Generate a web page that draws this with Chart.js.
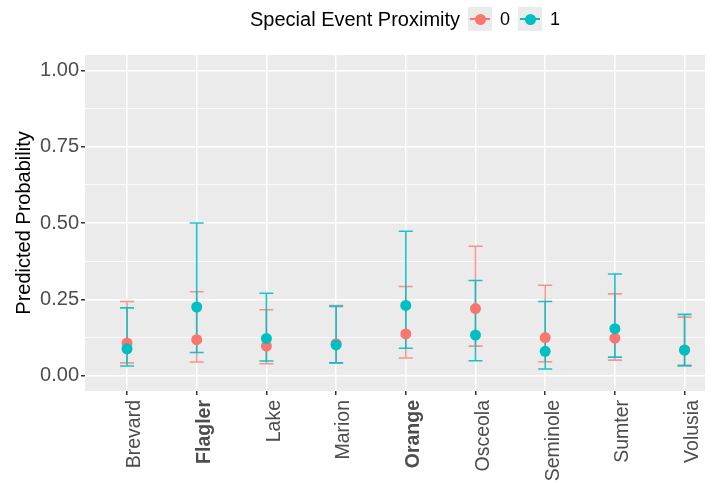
<!DOCTYPE html>
<html>
<head>
<meta charset="utf-8">
<script src="https://cdn.jsdelivr.net/npm/chart.js@4"></script>
<style>
  body { margin: 0; background: #fff; }
  #wrap { position: relative; width: 716px; height: 483px; font-family: 'Liberation Sans', Arial, sans-serif; }
  #legend { position: absolute; left: 250px; top: 7px; height: 24px; display: flex; align-items: center; font-size: 20px; color: #000; }
  .key { position: relative; width: 24px; height: 24px; background: #EBEBEB; margin-left: 8px; }
  .key .ln { position: absolute; left: 2px; right: 2px; top: 11px; height: 1.6px; }
  .key .dot { position: absolute; left: 6.5px; top: 6.5px; width: 11px; height: 11px; border-radius: 50%; }
  .lab { font-size: 18px; margin-left: 8px; }
</style>
</head>
<body>
<div id="wrap">
  <canvas id="chart" width="716" height="483"></canvas>
  <div id="legend">
    <span>Special Event Proximity</span>
    <div class="key"><div class="ln" style="background:#F8766D"></div><div class="dot" style="background:#F8766D"></div></div>
    <span class="lab">0</span>
    <div class="key"><div class="ln" style="background:#00BFC4"></div><div class="dot" style="background:#00BFC4"></div></div>
    <span class="lab">1</span>
  </div>
</div>
<script>
const counties = ['Brevard', 'Flagler', 'Lake', 'Marion', 'Orange', 'Osceola', 'Seminole', 'Sumter', 'Volusia'];
const boldCounties = ['Flagler', 'Orange'];

// Special Event Proximity = 0
const est0 = [0.107, 0.118, 0.097, 0.105, 0.137, 0.220, 0.125, 0.123, 0.084];
const lo0  = [0.042, 0.045, 0.039, 0.042, 0.058, 0.097, 0.046, 0.051, 0.033];
const hi0  = [0.243, 0.275, 0.216, 0.230, 0.292, 0.424, 0.296, 0.268, 0.192];

// Special Event Proximity = 1
const est1 = [0.088, 0.225, 0.122, 0.101, 0.230, 0.133, 0.080, 0.154, 0.084];
const lo1  = [0.032, 0.076, 0.048, 0.042, 0.090, 0.049, 0.022, 0.061, 0.033];
const hi1  = [0.222, 0.500, 0.270, 0.227, 0.473, 0.312, 0.243, 0.333, 0.201];

const yTicks = [0, 0.125, 0.25, 0.375, 0.5, 0.625, 0.75, 0.875, 1];

const col0 = '#F8766D';
const col1 = '#00BFC4';

const pts = arr => arr.map((v, i) => ({ x: i + 1, y: v }));

const panelBg = {
    id: 'panelBg',
    beforeDraw(chart) {
        const { ctx, chartArea: a } = chart;
        ctx.save();
        ctx.fillStyle = '#EBEBEB';
        ctx.fillRect(a.left, a.top, a.right - a.left, a.bottom - a.top);
        ctx.restore();
    }
};

// error bars go under the points, drawn from the same y scale
const errorBars = {
    id: 'errorBars',
    beforeDatasetsDraw(chart) {
        const { ctx, scales: { x, y } } = chart;
        const sets = [[lo0, hi0, 'rgba(248,118,109,0.75)'], [lo1, hi1, 'rgba(0,191,196,0.9)']];
        ctx.save();
        ctx.lineWidth = 1.6;
        sets.forEach(([lo, hi, c]) => {
            ctx.strokeStyle = c;
            lo.forEach((l, i) => {
                const px = x.getPixelForValue(i + 1);
                const yl = y.getPixelForValue(l), yh = y.getPixelForValue(hi[i]);
                ctx.beginPath();
                ctx.moveTo(px, yl); ctx.lineTo(px, yh);
                ctx.moveTo(px - 7, yl); ctx.lineTo(px + 7, yl);
                ctx.moveTo(px - 7, yh); ctx.lineTo(px + 7, yh);
                ctx.stroke();
            });
        });
        ctx.restore();
    }
};

const isMajor = v => Math.abs(v * 4 - Math.round(v * 4)) < 1e-6;

new Chart(document.getElementById('chart'), {
    type: 'scatter',
    data: {
        datasets: [
            { label: '0', order: 1, data: pts(est0), backgroundColor: col0, borderColor: col0, pointRadius: 5.5, pointHoverRadius: 5.5, borderWidth: 0 },
            { label: '1', order: 0, data: pts(est1), backgroundColor: col1, borderColor: col1, pointRadius: 5.5, pointHoverRadius: 5.5, borderWidth: 0 }
        ]
    },
    options: {
        responsive: false,
        animation: false,
        layout: { padding: { top: 55, right: 11, left: 0, bottom: 0 } },
        plugins: { legend: { display: false }, tooltip: { enabled: false } },
        scales: {
            x: {
                type: 'linear',
                min: 0.397,
                max: 9.293,
                afterBuildTicks: s => { s.ticks = counties.map((c, i) => ({ value: i + 1 })); },
                afterFit: s => { s.height = 92; s.paddingLeft = 0; s.paddingRight = 0; },
                border: { display: false },
                grid: { color: '#FFFFFF', lineWidth: 1.5, tickColor: '#333333', tickLength: 4 },
                ticks: {
                    autoSkip: false,
                    minRotation: 90,
                    maxRotation: 90,
                    padding: 5,
                    labelOffset: 8,
                    color: '#4D4D4D',
                    callback: v => counties[v - 1],
                    font: ctx => ({
                        family: "'Liberation Sans', Arial, sans-serif",
                        size: 19.5,
                        weight: boldCounties.includes(counties[ctx.index]) ? 'bold' : 'normal'
                    })
                }
            },
            y: {
                min: -0.05,
                max: 1.05,
                afterBuildTicks: s => { s.ticks = yTicks.map(v => ({ value: v })); },
                afterFit: s => { s.width = 85; },
                border: { display: false },
                grid: {
                    color: '#FFFFFF',
                    lineWidth: ctx => isMajor(ctx.tick.value) ? 1.5 : 0.75,
                    tickColor: ctx => isMajor(ctx.tick.value) ? '#333333' : 'rgba(0,0,0,0)',
                    tickLength: 4
                },
                ticks: {
                    padding: 2,
                    color: '#4D4D4D',
                    font: { family: "'Liberation Sans', Arial, sans-serif", size: 20 },
                    callback: v => isMajor(v) ? v.toFixed(2) : ''
                },
                title: {
                    display: true,
                    text: 'Predicted Probability',
                    color: '#000000',
                    font: { family: "'Liberation Sans', Arial, sans-serif", size: 20 },
                    padding: { top: 12, bottom: 0 }
                }
            }
        }
    },
    plugins: [panelBg, errorBars]
});
</script>
</body>
</html>
